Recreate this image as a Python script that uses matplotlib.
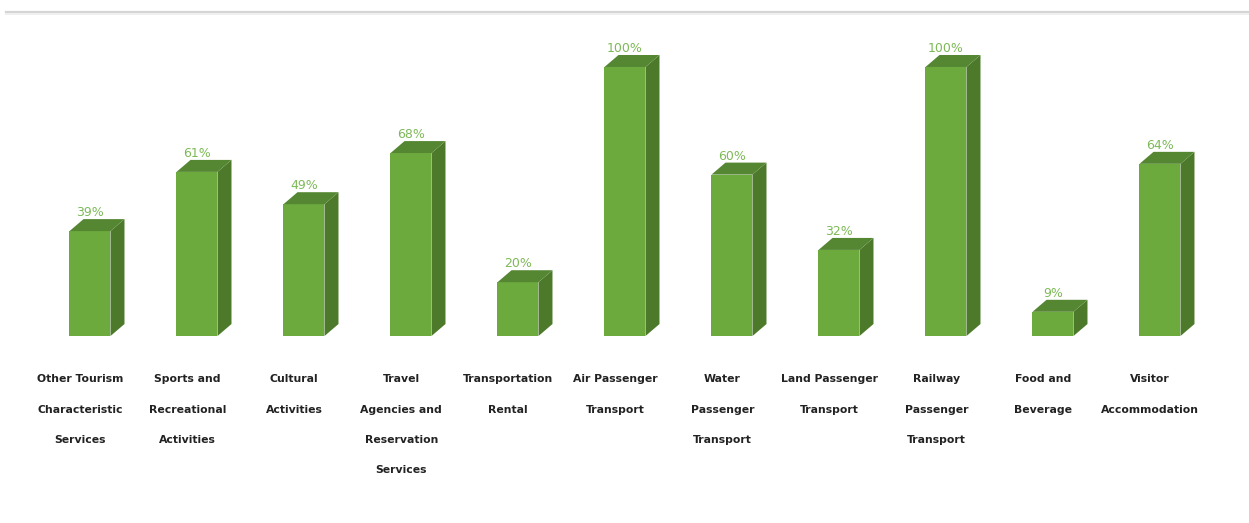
import matplotlib.pyplot as plt
from matplotlib.patches import Polygon
from matplotlib.lines import Line2D

categories = [
    "Other Tourism\nCharacteristic\nServices",
    "Sports and\nRecreational\nActivities",
    "Cultural\nActivities",
    "Travel\nAgencies and\nReservation\nServices",
    "Transportation\nRental",
    "Air Passenger\nTransport",
    "Water\nPassenger\nTransport",
    "Land Passenger\nTransport",
    "Railway\nPassenger\nTransport",
    "Food and\nBeverage",
    "Visitor\nAccommodation",
]
values = [39, 61, 49, 68, 20, 100, 60, 32, 100, 9, 64]
value_labels = ["39%", "61%", "49%", "68%", "20%", "100%", "60%", "32%", "100%", "9%", "64%"]

front_color = "#6CAA3E"
side_color = "#4C7A2A"
top_color = "#558733"
label_green = "#7DB957"

fig = plt.figure(figsize=(12.49, 5.23), dpi=100)
ax = fig.add_axes([0, 0, 1, 1])
ax.set_xlim(-0.841, 10.832)
ax.set_ylim(-69.5, 124.9)
ax.axis("off")

width = 0.383   # front face width
dx = 0.131      # depth offset in x
dy = 4.46       # depth offset in y

for i, h in enumerate(values):
    x0 = i - width / 2
    x1 = i + width / 2
    front = Polygon([(x0, 0), (x1, 0), (x1, h), (x0, h)], closed=True,
                    facecolor=front_color, edgecolor="none")
    side = Polygon([(x1, 0), (x1 + dx, dy), (x1 + dx, h + dy), (x1, h)], closed=True,
                   facecolor=side_color, edgecolor="none")
    top = Polygon([(x0, h), (x1, h), (x1 + dx, h + dy), (x0 + dx, h + dy)], closed=True,
                  facecolor=top_color, edgecolor="none")
    for p in (front, side, top):
        ax.add_patch(p)

    ax.annotate(value_labels[i], xy=(i, h + dy), xytext=(0, 0), textcoords="offset points",
                ha="center", va="bottom", fontsize=9, color=label_green)

    ax.annotate(categories[i], xy=(i, 0), xytext=(-7, -27.5), textcoords="offset points",
                ha="center", va="top", fontsize=7.8, fontweight="bold", color="#222222",
                linespacing=3.55, family="DejaVu Sans")

# thin frame line across the top
fig.add_artist(Line2D([0.005, 1.0], [0.978, 0.978], transform=fig.transFigure,
                      color="#d4d4d4", linewidth=1.6))
fig.add_artist(Line2D([0.005, 1.0], [0.974, 0.974], transform=fig.transFigure,
                      color="#efefef", linewidth=1.5))

fig.savefig("out.png", dpi=100, facecolor="white")
